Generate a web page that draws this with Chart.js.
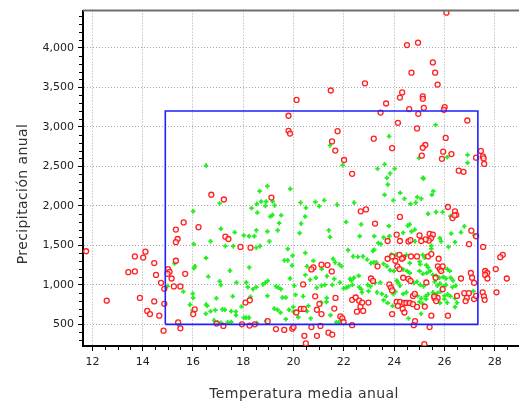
<!DOCTYPE html>
<html>
<head>
<meta charset="utf-8">
<script src="https://cdn.jsdelivr.net/npm/chart.js@4/dist/chart.umd.min.js"></script>
<style>
html, body { margin: 0; padding: 0; background: #fff; overflow: hidden; }
#wrap { position: absolute; left: 0; top: 0; width: 540px; height: 402px; }
</style>
</head>
<body>
<div id="wrap"><canvas id="mycanvas" width="540" height="402"></canvas></div>
<script>
// ejes
var xTicks = [12, 14, 16, 18, 20, 22, 24, 26, 28];
var yTicks = [500, 1000, 1500, 2000, 2500, 3000, 3500, 4000];
var xTitulo = 'Temperatura media anual';
var yTitulo = 'Precipitación anual';

// rectangulo azul (rango de temperatura / precipitacion)
var rectTemp = [14.9, 27.33, 27.33, 14.9, 14.9];
var rectPrec = [500, 500, 3200, 3200, 500];

// puntos rojos (circulos)
var rojoTemp = [
	22.84,21.48,20.12,19.80,19.80,19.86,21.75,21.53,21.66,22.01,22.33,
	26.08,24.51,24.95,25.54,24.69,25.63,25.73,24.32,24.23,25.14,25.14,23.68,24.60,25.18,26.01,25.98,23.46,24.96,26.91,24.15,
	24.91,23.19,26.05,23.92,25.24,25.14,25.10,25.95,26.28,25.90,27.45,27.26,27.53,27.56,27.58,26.57,26.76,
	16.73,17.23,15.63,16.22,15.32,17.29,15.39,15.32,11.75,14.11,13.69,14.02,15.32,14.46,15.01,15.07,13.43,13.69,14.99,14.53,
	15.69,15.15,14.73,14.86,15.24,15.50,12.57,13.89,14.46,14.86,16.07,14.18,16.01,14.29,14.66,16.94,15.41,14.83,15.50,17.21,
	19.12,22.67,22.88,17.41,17.89,18.29,20.79,20.71,21.11,21.35,21.52,20.38,20.86,21.67,22.33,22.47,22.61,22.66,22.73,22.77,
	22.52,22.98,18.09,18.26,21.03,21.62,20.11,20.29,20.41,20.93,21.11,18.97,21.86,21.94,21.99,17.95,18.25,18.46,20.71,21.07,
	22.33,19.30,19.63,19.95,20.00,20.43,20.93,21.39,21.54,20.49,
	26.14,26.42,26.47,26.32,26.40,24.23,23.24,27.07,27.26,24.10,25.01,25.41,25.54,25.47,25.38,25.25,23.74,24.23,24.57,24.65,
	25.08,26.98,27.54,28.32,28.22,24.21,24.36,24.31,24.67,24.91,25.35,25.48,23.74,23.92,24.05,25.77,23.34,24.13,24.21,25.74,
	25.82,25.93,25.87,27.62,27.70,27.62,27.71,28.04,28.48,27.05,26.66,25.65,23.08,23.16,23.81,23.87,23.92,24.36,24.57,24.65,
	25.28,27.10,27.18,24.75,24.82,25.93,25.61,25.73,26.50,26.79,26.97,26.89,26.84,27.18,27.26,27.52,27.57,27.60,28.07,24.10,
	24.23,24.39,24.49,24.62,24.75,24.15,24.34,24.41,23.92,24.91,25.22,25.48,26.14,25.59,25.67,24.83,24.78,25.41,25.20
];
var rojoPrec = [
	3550,3460,3340,3140,2950,2915,2945,2815,2700,2580,2405,
	4445,4035,4065,3815,3685,3685,3535,3435,3370,3385,3355,3295,3225,3240,3250,3215,3180,3165,3080,3050,
	2980,2850,2860,2730,2770,2735,2635,2685,2655,2595,2695,2610,2625,2600,2530,2445,2430,
	2140,2080,1790,1730,1700,1610,1580,1540,1425,1420,1360,1345,1305,1275,1200,1165,1160,1170,1140,1125,
	1140,1080,1025,950,980,980,800,835,790,760,690,670,630,630,610,510,525,420,450,480,
	2105,1930,1955,1580,1480,1470,1220,1195,1255,1250,1170,1005,855,835,810,840,800,725,775,670,
	660,775,775,805,760,700,650,695,695,685,630,540,600,575,530,500,485,500,465,480,
	490,440,430,445,465,355,355,395,370,260,
	1985,1930,1885,1845,1880,1860,1775,1685,1615,1635,1625,1645,1635,1590,1560,1575,1555,1555,1550,1565,
	1555,1515,1480,1380,1350,1380,1345,1330,1360,1360,1360,1390,1330,1360,1305,1330,1235,1235,1200,1235,
	1200,1235,1175,1175,1150,1125,1080,1200,1080,1150,1080,1090,1080,1050,1005,965,930,1090,1075,1050,
	1030,1090,1025,860,885,945,830,835,860,895,895,835,795,820,860,905,855,810,905,785,
	785,770,770,770,755,735,695,650,630,720,725,610,610,855,795,540,490,465,250
];

// puntos verdes (cruces)
var verdeTemp = [
	16.52,21.45,21.95,
	25.65,23.80,24.99,26.11,26.92,26.92,23.62,24.02,23.34,23.84,23.71,25.14,
	17.06,16.01,17.11,16.70,16.03,17.29,16.52,15.27,16.08,16.04,16.61,17.06,17.11,14.99,15.62,15.99,16.01,16.93,15.88,16.52,
	16.57,16.70,16.89,17.17,17.27,15.99,16.51,16.84,16.98,17.11,15.40,
	18.96,19.87,18.65,18.71,18.91,18.54,19.17,18.33,18.88,19.25,20.28,20.87,21.22,20.49,21.02,21.73,22.41,18.56,19.16,19.51,
	19.08,20.46,19.43,20.30,22.09,22.69,17.66,18.52,18.96,19.37,21.40,20.24,21.45,22.63,18.02,18.23,18.44,19.04,17.60,18.52,
	18.67,19.77,20.47,22.17,21.57,22.56,22.37,22.76,22.93,19.64,19.77,19.96,20.79,21.82,21.91,21.65,17.47,18.24,19.94,20.53,
	21.12,20.47,19.86,20.66,20.89,21.33,21.62,22.25,22.40,22.30,22.59,17.73,18.12,18.78,18.97,18.87,18.18,18.39,18.52,19.30,
	19.50,19.40,20.03,20.92,21.11,21.24,21.54,21.84,21.99,22.10,22.19,22.34,22.61,22.69,22.72,22.95,22.98,17.58,18.29,18.96,
	19.56,19.69,20.08,20.38,17.93,21.32,21.31,21.10,19.23,19.36,19.48,19.82,19.99,20.00,20.54,20.59,21.47,17.52,17.71,17.71,
	18.02,18.12,18.23,18.91,19.69,20.19,20.68,17.52,17.38,21.70,21.80,18.54,
	23.75,25.17,23.62,24.24,23.97,24.41,24.92,25.08,25.50,25.56,24.65,24.86,25.67,25.93,25.35,26.24,24.54,24.62,23.79,26.79,
	27.18,24.36,24.69,24.82,23.21,23.58,23.81,26.27,26.66,23.37,23.47,24.83,25.82,25.87,26.42,23.21,23.16,25.48,25.48,26.16,
	23.89,24.07,24.49,25.14,25.21,23.19,23.08,23.29,23.58,23.71,24.62,25.01,25.04,25.28,25.35,23.84,23.99,24.36,24.52,24.62,
	25.01,25.14,25.30,25.43,25.54,26.11,26.21,25.67,25.80,25.95,26.06,26.25,26.34,23.45,23.24,23.06,24.10,24.15,24.23,24.78,
	24.91,25.04,25.17,25.61,25.72,25.82,25.95,26.06,26.32,26.45,23.32,23.51,23.68,23.97,24.05,24.36,24.49,24.93,25.08,25.25,
	25.35,25.54,25.61,25.72,25.85,26.00,26.13,26.24,26.42,27.15,23.58,23.74,23.94,25.01,25.14,25.27,25.82,26.00,26.11,26.42,
	26.50,24.57,25.07
];
var verdePrec = [
	2510,2765,2515,
	3025,2880,2605,2615,2645,2545,2525,2470,2470,2410,2355,2355,
	2030,1930,1710,1550,1515,1490,1340,1270,1235,1210,1105,1045,1000,985,915,890,835,830,750,750,
	735,665,680,690,685,675,635,550,525,520,505,
	2250,2215,2185,2055,2055,2025,2055,1970,2000,2005,2040,2050,2070,1975,1995,2015,2040,1915,1885,1880,
	1865,1865,1780,1775,1795,1765,1665,1690,1675,1690,1690,1655,1605,1615,1625,1615,1615,1550,1490,1470,
	1490,1455,1405,1440,1330,1355,1360,1360,1320,1310,1310,1370,1305,1260,1235,1285,1180,1220,1245,1235,
	1200,1125,1080,1065,1090,1110,1075,1075,1090,1055,1115,1030,1030,1005,1050,1025,970,945,970,980,
	945,965,990,965,990,1000,1000,1030,955,965,980,1000,970,945,905,1000,920,855,850,860,
	840,840,875,855,725,835,785,775,700,685,650,685,720,660,665,735,615,665,660,615,
	585,585,585,545,565,590,575,530,525,525,525,515,
	2270,2345,2140,2165,2070,2090,2110,2090,2140,2185,2025,2040,1920,1920,1900,1870,1750,1765,1745,1740,
	1625,1660,1675,1700,1615,1600,1615,1650,1665,1530,1515,1550,1590,1550,1540,1445,1430,1495,1455,1480,
	1385,1380,1380,1380,1345,1285,1275,1285,1265,1235,1275,1295,1260,1250,1220,1185,1175,1195,1175,1150,
	1175,1140,1150,1175,1125,1200,1175,1115,1090,1100,1080,1090,1055,1030,1025,980,1055,1030,990,1025,
	1040,1000,980,1040,990,1015,980,1000,970,990,905,885,855,885,915,885,905,860,830,855,
	880,905,870,895,915,860,880,855,830,920,805,770,735,785,760,820,770,820,775,720,
	775,575,635
];

function puntos(xs, ys) {
	var out = [];
	for (var i = 0; i < xs.length; i++) {
		out.push({x: xs[i], y: ys[i]});
	}
	return out;
}

// marcas menores, borde superior y titulos de ejes
var extras = {
	id: 'extras',
	afterDraw: function(chart) {
		var c = chart.ctx;
		var a = chart.chartArea;
		var sx = chart.scales.x, sy = chart.scales.y;
		c.save();
		c.strokeStyle = '#000';
		c.lineWidth = 1;
		c.beginPath();
		for (var v = 12; v <= 29.5; v += 0.5) {
			if (v % 2 === 0) continue;
			var px = Math.round(sx.getPixelForValue(v)) + 0.5;
			c.moveTo(px, a.bottom + 1);
			c.lineTo(px, a.bottom + 4);
		}
		for (var w = 300; w <= 4400; w += 100) {
			if (w % 500 === 0) continue;
			var py = Math.round(sy.getPixelForValue(w)) + 0.5;
			c.moveTo(a.left - 1, py);
			c.lineTo(a.left - 4, py);
		}
		c.stroke();

		c.strokeStyle = '#6e6e6e';
		c.lineWidth = 2;
		c.beginPath();
		c.moveTo(a.left, a.top);
		c.lineTo(a.right, a.top);
		c.stroke();

		c.fillStyle = '#333';
		c.font = '14px "DejaVu Sans"';
		c.letterSpacing = '0.4px';
		c.textAlign = 'center';
		c.textBaseline = 'alphabetic';
		c.fillText(xTitulo, 304, 398);
		c.translate(27, 194);
		c.rotate(-Math.PI / 2);
		c.fillText(yTitulo, 0, 0);
		c.restore();
	}
};

var ctx = document.getElementById('mycanvas');

var grafico = new Chart(ctx, {
	type: 'scatter',
	data: {
		datasets: [
			{
				label: 'rango',
				data: puntos(rectTemp, rectPrec),
				showLine: true,
				borderColor: '#1f1fff',
				borderWidth: 1.6,
				pointRadius: 0,
				fill: false,
				order: 0
			},
			{
				label: 'rojo',
				data: puntos(rojoTemp, rojoPrec),
				pointStyle: 'circle',
				pointRadius: 2.5,
				borderWidth: 1.3,
				borderColor: '#ff2020',
				backgroundColor: 'rgba(255,255,255,0.6)',
				order: 1
			},
			{
				label: 'verde',
				data: puntos(verdeTemp, verdePrec),
				pointStyle: 'cross',
				pointRadius: 2.3,
				borderWidth: 1.8,
				borderColor: '#22ee22',
				backgroundColor: '#22ee22',
				order: 2
			}
		]
	},
	options: {
		responsive: false,
		animation: false,
		devicePixelRatio: 1,
		layout: { padding: { top: 10, left: 0, right: 0, bottom: 0 } },
		plugins: {
			legend: { display: false },
			tooltip: { enabled: false }
		},
		scales: {
			x: {
				type: 'linear',
				min: 11.627,
				max: 29.57,
				afterFit: function(s) { s.height = 56; },
				afterBuildTicks: function(s) { s.ticks = xTicks.map(function(v) { return {value: v}; }); },
				grid: {
					color: '#a8a8a8',
					lineWidth: 1,
					borderDash: [1, 2],
					tickLength: 5,
					tickColor: '#000',
					tickBorderDash: []
				},
				border: { color: '#000', width: 2, dash: [1, 2] },
				ticks: {
					font: { family: 'DejaVu Sans', size: 11 },
					color: '#222',
					padding: 5,
					maxRotation: 0
				}
			},
			y: {
				type: 'linear',
				min: 226,
				max: 4471,
				afterFit: function(s) { s.width = 83; },
				afterBuildTicks: function(s) { s.ticks = yTicks.map(function(v) { return {value: v}; }); },
				grid: {
					color: '#a8a8a8',
					lineWidth: 1,
					borderDash: [1, 2],
					tickLength: 5,
					tickColor: '#000',
					tickBorderDash: []
				},
				border: { color: '#000', width: 2, dash: [1, 2] },
				ticks: {
					font: { family: 'DejaVu Sans', size: 11 },
					color: '#222',
					padding: 4,
					callback: function(v) { return v.toLocaleString('en-US'); }
				}
			}
		}
	},
	plugins: [extras]
});
</script>
</body>
</html>
